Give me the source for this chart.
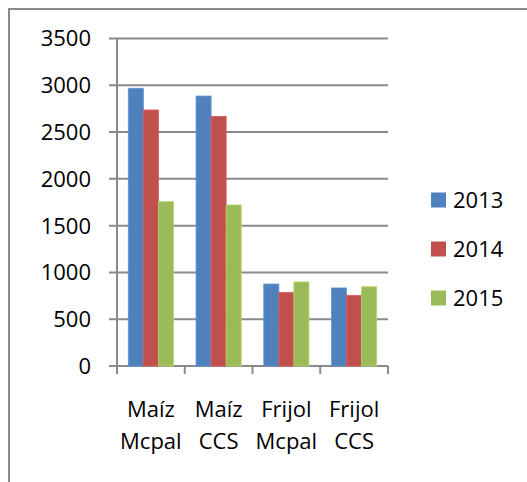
<!DOCTYPE html>
<html>
<head>
<meta charset="utf-8">
<script src="https://cdn.jsdelivr.net/npm/d3@7"></script>
<style>
  body { margin: 0; background: #fff; }
  svg text { font-family: 'Open Sans', sans-serif; fill: #000; }
</style>
</head>
<body>
<div class="chart"></div>
<script>
const categories = [['Maíz', 'Mcpal'], ['Maíz', 'CCS'], ['Frijol', 'Mcpal'], ['Frijol', 'CCS']]
const seriesNames = ['2013', '2014', '2015']
const values2013 = [2968, 2885, 876, 834]
const values2014 = [2736, 2668, 787, 755]
const values2015 = [1756, 1721, 898, 847]
const yTicks = [0, 500, 1000, 1500, 2000, 2500, 3000, 3500]
const colors = ['#4F81BD', '#C0504D', '#9BBB59']

const series = [values2013, values2014, values2015]

const width = 527
const height = 482
const margin = { top: 38.5, left: 117, right: 139, bottom: 116 }
const fontSize = 22

const svg = d3
  .select('.chart')
  .append('svg')
  .attr('width', width)
  .attr('height', height)

// outer frame (cut at right and bottom in the original)
svg
  .append('path')
  .attr('d', `M9,${height} V9 H${width}`)
  .attr('fill', 'none')
  .attr('stroke', '#8a8a8a')
  .attr('stroke-width', 2)

const y = d3
  .scaleLinear()
  .domain([0, 3500])
  .range([height - margin.bottom, margin.top])

const x = d3
  .scaleBand()
  .domain(d3.range(categories.length))
  .range([margin.left, width - margin.right])

// 150% gap width like the spreadsheet default
const bw = x.bandwidth() / 4.5
const xs = d3
  .scaleBand()
  .domain(d3.range(seriesNames.length))
  .range([bw * 0.75, bw * 3.75])

const g = svg.append('g')

// gridlines + y ticks
g.selectAll('.grid')
  .data(yTicks)
  .enter()
  .append('line')
  .attr('x1', margin.left - 8)
  .attr('x2', width - margin.right)
  .attr('y1', d => y(d))
  .attr('y2', d => y(d))
  .attr('stroke', '#8a8a8a')
  .attr('stroke-width', 2)

g.selectAll('.ylab')
  .data(yTicks)
  .enter()
  .append('text')
  .attr('x', 91)
  .attr('y', d => y(d))
  .attr('dy', '0.36em')
  .attr('text-anchor', 'end')
  .attr('font-size', fontSize)
  .text(d => d)

// bars
series.forEach((vals, si) => {
  g.selectAll(`.bar${si}`)
    .data(vals)
    .enter()
    .append('rect')
    .attr('x', (d, i) => x(i) + xs(si))
    .attr('width', xs.bandwidth())
    .attr('y', d => y(d))
    .attr('height', d => y(0) - y(d))
    .attr('fill', colors[si])
    .attr('stroke', d3.color(colors[si]).brighter(0.4))
    .attr('stroke-width', 0.8)
})

// axes
g.append('line')
  .attr('x1', margin.left)
  .attr('x2', margin.left)
  .attr('y1', y(3500))
  .attr('y2', y(0) + 8)
  .attr('stroke', '#8a8a8a')
  .attr('stroke-width', 2)

g.selectAll('.xtick')
  .data(d3.range(categories.length + 1))
  .enter()
  .append('line')
  .attr('x1', i => margin.left + i * x.step())
  .attr('x2', i => margin.left + i * x.step())
  .attr('y1', y(0))
  .attr('y2', y(0) + 8)
  .attr('stroke', '#8a8a8a')
  .attr('stroke-width', 2)

const xl = g
  .selectAll('.xlab')
  .data(categories)
  .enter()
  .append('text')
  .attr('text-anchor', 'middle')
  .attr('font-size', fontSize)

xl.selectAll('tspan')
  .data((d, i) => d.map(t => ({ t, i })))
  .enter()
  .append('tspan')
  .attr('x', d => x(d.i) + x.bandwidth() / 2)
  .attr('y', (d, j) => 417 + j * 32)
  .text(d => d.t)

// legend
const legend = g
  .selectAll('.legend')
  .data(seriesNames)
  .enter()
  .append('g')
  .attr('transform', (d, i) => `translate(431,${200 + i * 49})`)

legend
  .append('rect')
  .attr('x', 0)
  .attr('y', -7.5)
  .attr('width', 15)
  .attr('height', 15)
  .attr('fill', (d, i) => colors[i])

legend
  .append('text')
  .attr('x', 22)
  .attr('y', 0)
  .attr('dy', '0.36em')
  .attr('font-size', fontSize)
  .text(d => d)
</script>
</body>
</html>
